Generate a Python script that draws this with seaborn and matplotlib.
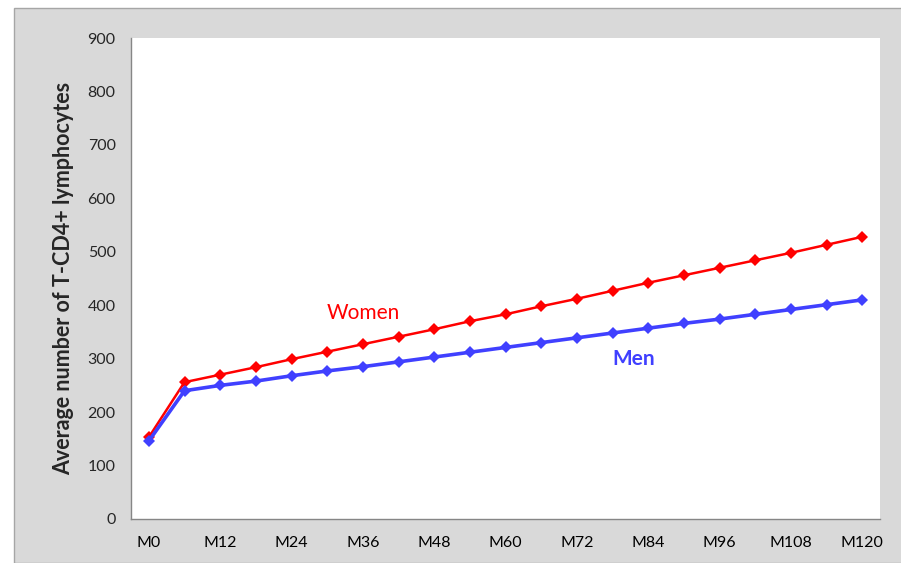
import numpy as np
import pandas as pd
import matplotlib.pyplot as plt
import seaborn as sns
from matplotlib.patches import Rectangle

months = ["M" + str(m) for m in range(0, 121, 6)]
women = [153, 256, 270, 284, 299, 313, 327, 341, 355, 370, 383,
         398, 412, 427, 442, 456, 470, 484, 498, 513, 528]
men = [146, 240, 250, 258, 268, 277, 285, 294, 303, 312, 321,
       330, 339, 348, 357, 366, 374, 383, 392, 401, 410]
yticks = list(range(0, 901, 100))

df = pd.DataFrame({
    "idx": list(range(len(months))) * 2,
    "month": months * 2,
    "value": women + men,
    "sex": ["Women"] * len(months) + ["Men"] * len(months),
})

sns.set_style("white")
plt.rcParams["font.family"] = ["Lato", "DejaVu Sans"]

fig = plt.figure(figsize=(9.01, 5.63), dpi=100)
fig.patch.set_facecolor("white")
# grey chart frame
fig.patches.append(Rectangle((14 / 901, 0), 1, 1 - 8 / 563, transform=fig.transFigure,
                             facecolor="#d9d9d9", edgecolor="#a6a6a6", linewidth=1, zorder=-5))

ax = fig.add_axes([131 / 901, 44 / 563, 749 / 901, 481 / 563])
ax.set_facecolor("white")

sns.lineplot(data=df[df.sex == "Women"], x="idx", y="value", color="#ff0000",
             marker="D", markersize=6, markeredgewidth=0, linewidth=1.8, ax=ax)
sns.lineplot(data=df[df.sex == "Men"], x="idx", y="value", color="#4040ff",
             marker="D", markersize=6, markeredgewidth=0, linewidth=2.6, ax=ax)

ax.set_xlim(-0.5, len(months) - 0.5)
ax.set_ylim(0, 900)
ax.set_yticks(yticks)
ax.set_xticks(range(0, len(months), 2))
ax.set_xticklabels(months[::2])
ax.set_xticks(np.arange(-0.5, len(months), 1), minor=True)
ax.tick_params(axis="x", which="major", length=0, pad=12, labelsize=11.5, colors="black")
ax.tick_params(axis="x", which="minor", length=5, width=1, color="#868686", direction="out")
ax.tick_params(axis="y", length=6, width=1, color="#868686", direction="out", labelsize=11.5, pad=5)

for s in ["top", "right"]:
    ax.spines[s].set_visible(False)
for s in ["left", "bottom"]:
    ax.spines[s].set_color("#868686")
    ax.spines[s].set_linewidth(1)

ax.set_xlabel("")
ax.set_ylabel("Average number of T-CD4+ lymphocytes", fontsize=15.5, fontweight="bold", labelpad=10)

ax.text(6.0, 385, "Women", color="#ff0000", fontsize=15, ha="center", va="center")
ax.text(13.6, 300, "Men", color="#4040ff", fontsize=15, fontweight="bold", ha="center", va="center")

fig.savefig("out.png", dpi=100)
